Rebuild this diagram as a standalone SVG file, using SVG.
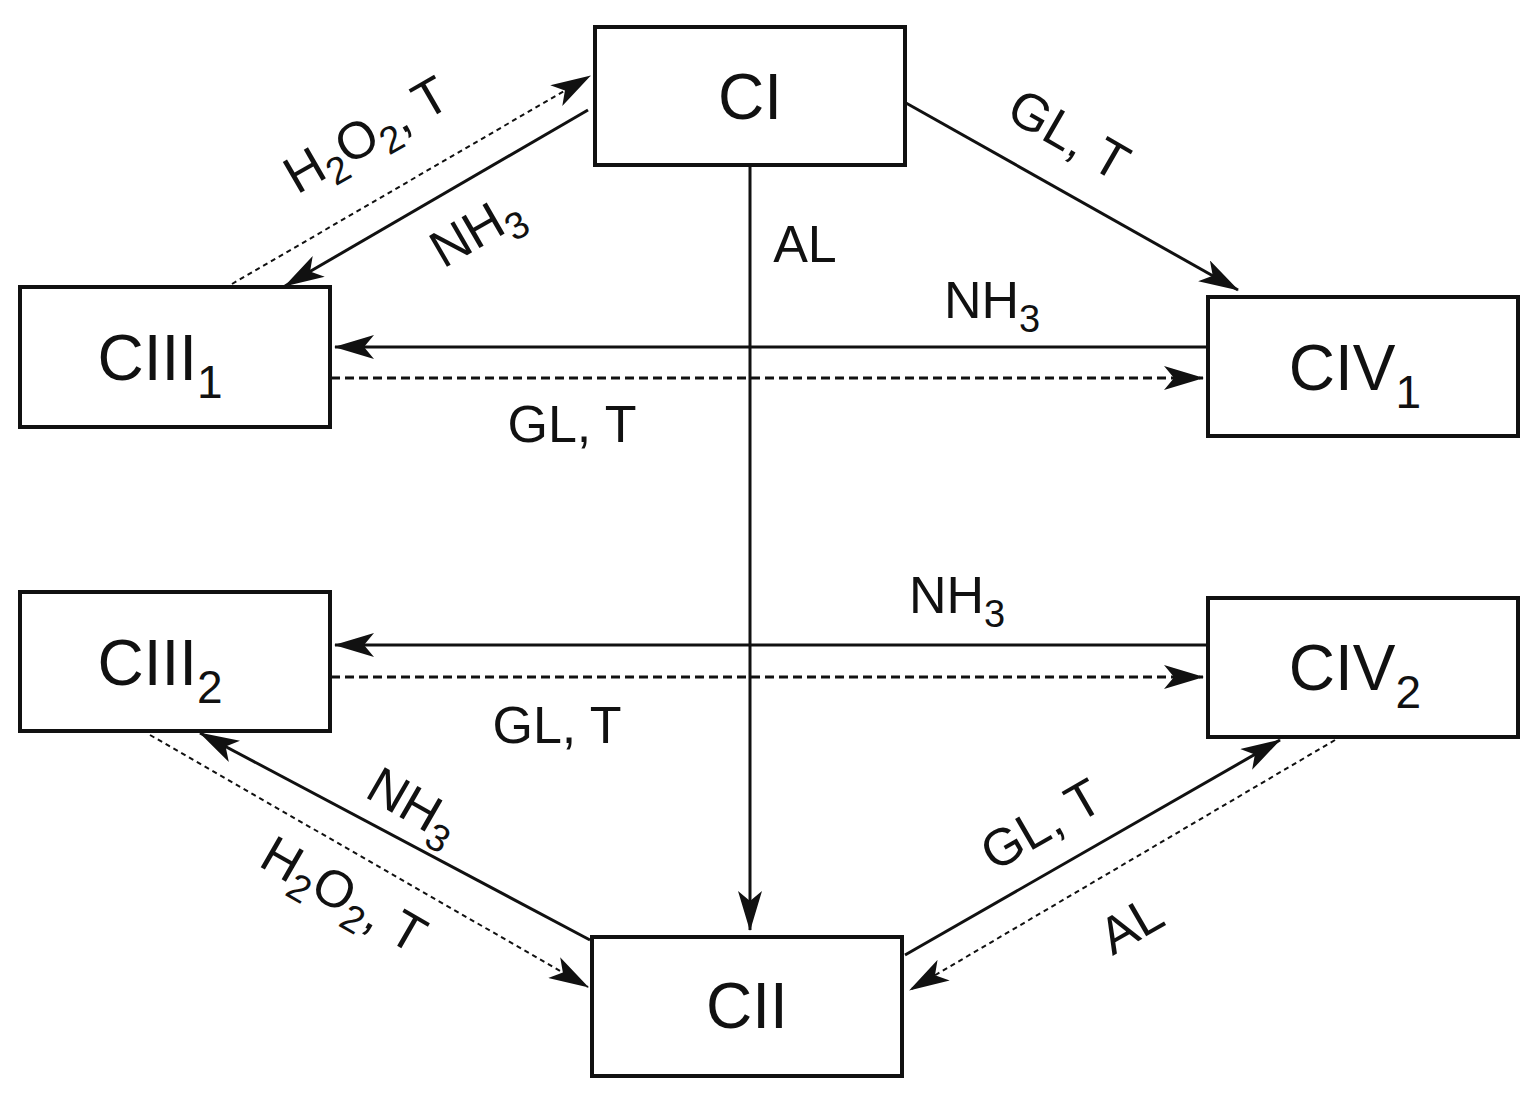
<svg xmlns="http://www.w3.org/2000/svg" width="1538" height="1102" viewBox="0 0 1538 1102">
<style>
.box{fill:#fff;stroke:#111;stroke-width:4}
.bt{font-family:"Liberation Sans",Arial,sans-serif;font-size:64px;fill:#111;text-anchor:middle}
.lt{font-family:"Liberation Sans",Arial,sans-serif;font-size:52px;fill:#111;text-anchor:middle}
.s{stroke:#111;stroke-width:3;fill:none}
.d{stroke:#111;stroke-width:3;fill:none;stroke-dasharray:9 5}
.t{stroke:#111;stroke-width:2;fill:none;stroke-dasharray:5 4}
</style>
<defs>
<marker id="a" markerWidth="14" markerHeight="10" refX="13" refY="5" orient="auto" markerUnits="userSpaceOnUse" viewBox="0 0 14 10">
<path d="M0,0 L14,5 L0,10 L4,5 Z" fill="#111"/>
</marker>
<marker id="A" viewBox="0 0 40 24" refX="39" refY="12" markerWidth="40" markerHeight="24" orient="auto" markerUnits="userSpaceOnUse">
<path d="M0,0 L40,12 L0,24 L10,12 Z" fill="#111"/>
</marker>
</defs>
<rect width="1538" height="1102" fill="#fff"/>
<g id="connectors">
<line class="s" x1="588" y1="110" x2="285" y2="286" marker-end="url(#A)"/>
<line class="t" x1="232" y1="284" x2="590" y2="76" marker-end="url(#A)"/>
<line class="s" x1="906" y1="103" x2="1238" y2="290" marker-end="url(#A)"/>
<line class="s" x1="750" y1="166" x2="750" y2="930" marker-end="url(#A)"/>
<line class="s" x1="1208" y1="347" x2="335" y2="347" marker-end="url(#A)"/>
<line class="d" x1="331" y1="378" x2="1203" y2="378" marker-end="url(#A)"/>
<line class="s" x1="1208" y1="645" x2="335" y2="645" marker-end="url(#A)"/>
<line class="d" x1="331" y1="677" x2="1203" y2="677" marker-end="url(#A)"/>
<line class="s" x1="590" y1="940" x2="200" y2="733" marker-end="url(#A)"/>
<line class="t" x1="150" y1="735" x2="588" y2="987" marker-end="url(#A)"/>
<line class="s" x1="905" y1="955" x2="1280" y2="740" marker-end="url(#A)"/>
<line class="t" x1="1335" y1="740" x2="910" y2="990" marker-end="url(#A)"/>
</g>
<g id="labels">
<text class="lt" transform="translate(375,150) rotate(-30)">H<tspan font-size="38" dy="12">2</tspan><tspan dy="-12">O</tspan><tspan font-size="38" dy="12">2</tspan><tspan dy="-12">, T</tspan></text>
<text class="lt" transform="translate(485,245) rotate(-30)">NH<tspan font-size="38" dy="12">3</tspan></text>
<text class="lt" transform="translate(1060,150) rotate(30)">GL, T</text>
<text class="lt" x="805" y="262">AL</text>
<text class="lt" x="992" y="318">NH<tspan font-size="38" dy="14">3</tspan></text>
<text class="lt" x="572" y="442">GL, T</text>
<text class="lt" x="957" y="613">NH<tspan font-size="38" dy="14">3</tspan></text>
<text class="lt" x="557" y="743">GL, T</text>
<text class="lt" transform="translate(405,820) rotate(30)">NH<tspan font-size="38" dy="12">3</tspan></text>
<text class="lt" transform="translate(335,910) rotate(30)">H<tspan font-size="38" dy="12">2</tspan><tspan dy="-12">O</tspan><tspan font-size="38" dy="12">2</tspan><tspan dy="-12">, T</tspan></text>
<text class="lt" transform="translate(1050,840) rotate(-30)">GL, T</text>
<text class="lt" transform="translate(1140,940) rotate(-30)">AL</text>
</g>
<g id="CI"><rect class="box" x="595" y="27" width="310" height="138"/><text class="bt" x="750" y="119">CI</text></g>
<g id="CIII1"><rect class="box" x="20" y="287" width="310" height="140"/><text class="bt" x="160" y="380">CIII<tspan font-size="46" dy="18">1</tspan></text></g>
<g id="CIV1"><rect class="box" x="1208" y="297" width="310" height="139"/><text class="bt" x="1355" y="390">CIV<tspan font-size="46" dy="18">1</tspan></text></g>
<g id="CIII2"><rect class="box" x="20" y="592" width="310" height="139"/><text class="bt" x="160" y="685">CIII<tspan font-size="46" dy="18">2</tspan></text></g>
<g id="CIV2"><rect class="box" x="1208" y="598" width="310" height="139"/><text class="bt" x="1355" y="690">CIV<tspan font-size="46" dy="18">2</tspan></text></g>
<g id="CII"><rect class="box" x="592" y="937" width="310" height="139"/><text class="bt" x="747" y="1028">CII</text></g>
</svg>
